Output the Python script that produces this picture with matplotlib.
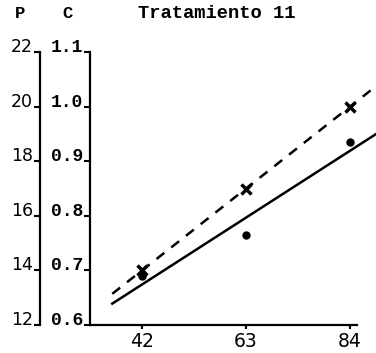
import numpy as np
import matplotlib
matplotlib.use('Agg')
import matplotlib.pyplot as plt

# days after sowing and the two measured series (C scale)
days = [42, 63, 84]
c_cross = [0.70, 0.85, 1.00]
c_dot = [0.69, 0.765, 0.935]
fit_range = [36, 89.3]

c_ticks = [0.6, 0.7, 0.8, 0.9, 1.0, 1.1]
c_labels = ['0.6', '0.7', '0.8', '0.9', '1.0', '1.1']
p_ticks = [12, 14, 16, 18, 20, 22]
title = 'Tratamiento 11'

W, H = 376, 353
fig = plt.figure(figsize=(W / 100, H / 100), dpi=100)
ax = fig.add_axes([90 / W, 1 - 325 / H, (357 - 90) / W, (325 - 52) / H])
ax.set_xlim(31.5, 85.4)
ax.set_ylim(0.6, 1.1)

for s in ['top', 'right']:
    ax.spines[s].set_visible(False)
for s in ['left', 'bottom']:
    ax.spines[s].set_linewidth(1.6)

ax.set_xticks(days)
ax.set_xticklabels([str(d) for d in days], fontsize=13.5, family='DejaVu Sans')
ax.set_yticks(c_ticks)
ax.set_yticklabels(c_labels, fontsize=13, family='Liberation Mono',
                   weight='bold', va='baseline')
ax.tick_params(axis='y', direction='out', length=4, width=1.5, pad=1)
ax.tick_params(axis='x', direction='out', length=3, width=1.5, pad=2)

# second (P) scale on the far left
ax2 = ax.twinx()
ax2.set_ylim(12, 22)
ax2.spines['right'].set_visible(False)
ax2.spines['top'].set_visible(False)
ax2.spines['bottom'].set_visible(False)
ax2.spines['left'].set_visible(True)
ax2.spines['left'].set_position(('outward', 36))
ax2.spines['left'].set_linewidth(1.6)
ax2.yaxis.tick_left()
ax2.set_yticks(p_ticks)
ax2.set_yticklabels([str(p) for p in p_ticks], fontsize=12.5,
                    family='DejaVu Sans', va='baseline')
ax2.tick_params(axis='y', direction='out', length=4, width=1.5, pad=1)

# fitted lines through each series
xs = np.array(fit_range)
k, b = np.polyfit(days, c_cross, 1)
ax.plot(xs, k * xs + b, color='black', lw=1.8, dashes=(4, 3.5), clip_on=False)
k, b = np.polyfit(days, c_dot, 1)
ax.plot(xs, k * xs + b, color='black', lw=1.8, clip_on=False)

ax.plot(days, c_cross, 'x', color='black', ms=7, mew=2.5, clip_on=False)
ax.plot(days, c_dot, 'o', color='black', ms=5, clip_on=False)

fig.text(217 / W, 1 - 13 / H, title, ha='center', va='center',
         family='Liberation Mono', fontsize=13.5, weight='bold')
fig.text(20 / W, 1 - 13 / H, 'P', ha='center', va='center',
         family='Liberation Mono', fontsize=12.5, weight='bold')
fig.text(68 / W, 1 - 13 / H, 'C', ha='center', va='center',
         family='Liberation Mono', fontsize=12.5, weight='bold')

fig.savefig('out.png', dpi=100)
